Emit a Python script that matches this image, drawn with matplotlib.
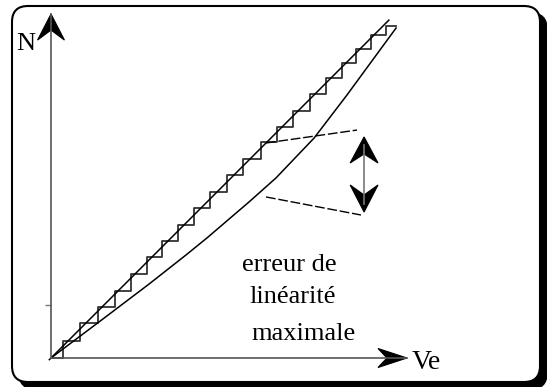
import matplotlib
matplotlib.use("Agg")
from matplotlib import pyplot as plt
from matplotlib.patches import FancyBboxPatch, Polygon

# quantizer staircase (Ve in LSB, N code)
ve_steps = [0.73, 1.77, 2.87, 3.90, 4.88, 5.85, 6.77, 7.74, 8.72, 9.70, 10.73,
            11.71, 12.80, 13.78, 14.76, 15.79, 16.77, 17.74, 18.60, 19.51, 20.43]
n_levels = [1.04, 2.13, 3.11, 4.09, 5.12, 6.16, 7.13, 8.11, 9.15, 10.12, 11.16,
            12.13, 13.17, 14.09, 15.06, 16.10, 17.07, 17.99, 18.84, 19.70, 20.24]
ve_end = 21.04

# ideal straight line
ideal_ve = [-0.1, 20.6]
ideal_n = [-0.1, 20.6]

# real (non linear) converter
real_ve = [0.0, 2.93, 5.98, 8.23, 9.51, 12.07, 13.72, 16.04, 18.05, 21.04]
real_n = [0.0, 2.20, 4.51, 6.28, 7.32, 9.51, 10.98, 13.41, 16.04, 20.12]

# dashed guides for the max error
guide1_ve = [13.11, 18.66]
guide1_n = [13.11, 13.90]
guide2_ve = [13.11, 18.90]
guide2_n = [9.82, 8.72]
err_x = 19.09
err_top = 13.48
err_bot = 8.90

W, H = 547, 387
fig = plt.figure(figsize=(W / 100, H / 100), dpi=100)

# frame with shadow
bg = fig.add_axes([0, 0, 1, 1])
bg.set_xlim(0, W)
bg.set_ylim(H, 0)
bg.axis("off")
bg.add_patch(FancyBboxPatch((19, 13), 528, 376, boxstyle="round,pad=0,rounding_size=16",
                            fc="black", ec="black", lw=1))
bg.add_patch(FancyBboxPatch((12, 6), 528, 376, boxstyle="round,pad=0,rounding_size=16",
                            fc="white", ec="black", lw=1.5))

ox, oy = 51, 358
ax = fig.add_axes([ox / W, (H - oy) / H, 356 / W, 344 / H])
ax.set_xlim(0, 356 / 16.4)
ax.set_ylim(0, 344 / 16.4)
ax.patch.set_alpha(0)
for s in ["top", "right"]:
    ax.spines[s].set_visible(False)
for s in ["left", "bottom"]:
    ax.spines[s].set_color("#555555")
    ax.spines[s].set_linewidth(1.2)
ax.set_xticks([])
ax.set_yticks([3.23])
ax.set_yticklabels([])
ax.tick_params(axis="y", length=4, width=1, color="#777777", direction="out")

# staircase
sx = [0]
sy = [0]
prev = 0
for v, n in zip(ve_steps, n_levels):
    sx += [v, v]
    sy += [prev, n]
    prev = n
sx.append(ve_end)
sy.append(prev)
ax.plot(sx, sy, color="#333333", lw=1.3, clip_on=False)

ax.plot(ideal_ve, ideal_n, color="black", lw=1.1, clip_on=False)
ax.plot(real_ve, real_n, color="black", lw=1.1, clip_on=False)
ax.plot(guide1_ve, guide1_n, color="black", lw=1, ls=(0, (7, 2)))
ax.plot(guide2_ve, guide2_n, color="black", lw=1, ls=(0, (7, 2)))


def head(x, y, dx, dy, length, half, notch):
    # stealth style arrow head, tip at (x, y), pointing along (dx, dy)
    px, py = -dy, dx
    pts = [(x, y),
           (x - dx * length + px * half, y - dy * length + py * half),
           (x - dx * notch, y - dy * notch),
           (x - dx * length - px * half, y - dy * length - py * half)]
    ax.add_patch(Polygon(pts, closed=True, fc="black", ec="black", lw=0.8, clip_on=False))


xmax = ax.get_xlim()[1]
ymax = ax.get_ylim()[1]
head(0, ymax, 0, 1, 1.59, 0.82, 0.98)
head(xmax, 0, 1, 0, 1.77, 0.58, 1.22)

ax.plot([err_x, err_x], [err_bot + 0.5, err_top - 0.5], color="#777777", lw=1.2)
head(err_x, err_top, 0, 1, 1.59, 0.85, 1.04)
head(err_x, err_bot, 0, -1, 1.65, 0.85, 1.04)

font = ["Liberation Serif", "DejaVu Serif"]
ax.text(-2.13, 18.78, "N", family=font, fontsize=19, va="baseline", ha="left")
ax.text(22.0, -0.67, "Ve", family=font, fontsize=20, va="baseline", ha="left", clip_on=False)
ax.text(11.65, 5.30, "erreur de", family=font, fontsize=19, va="baseline", ha="left")
ax.text(12.07, 3.35, "linéarité", family=font, fontsize=19, va="baseline", ha="left")
ax.text(12.2, 1.10, "maximale", family=font, fontsize=19, va="baseline", ha="left")

fig.savefig("out.png", dpi=100)
